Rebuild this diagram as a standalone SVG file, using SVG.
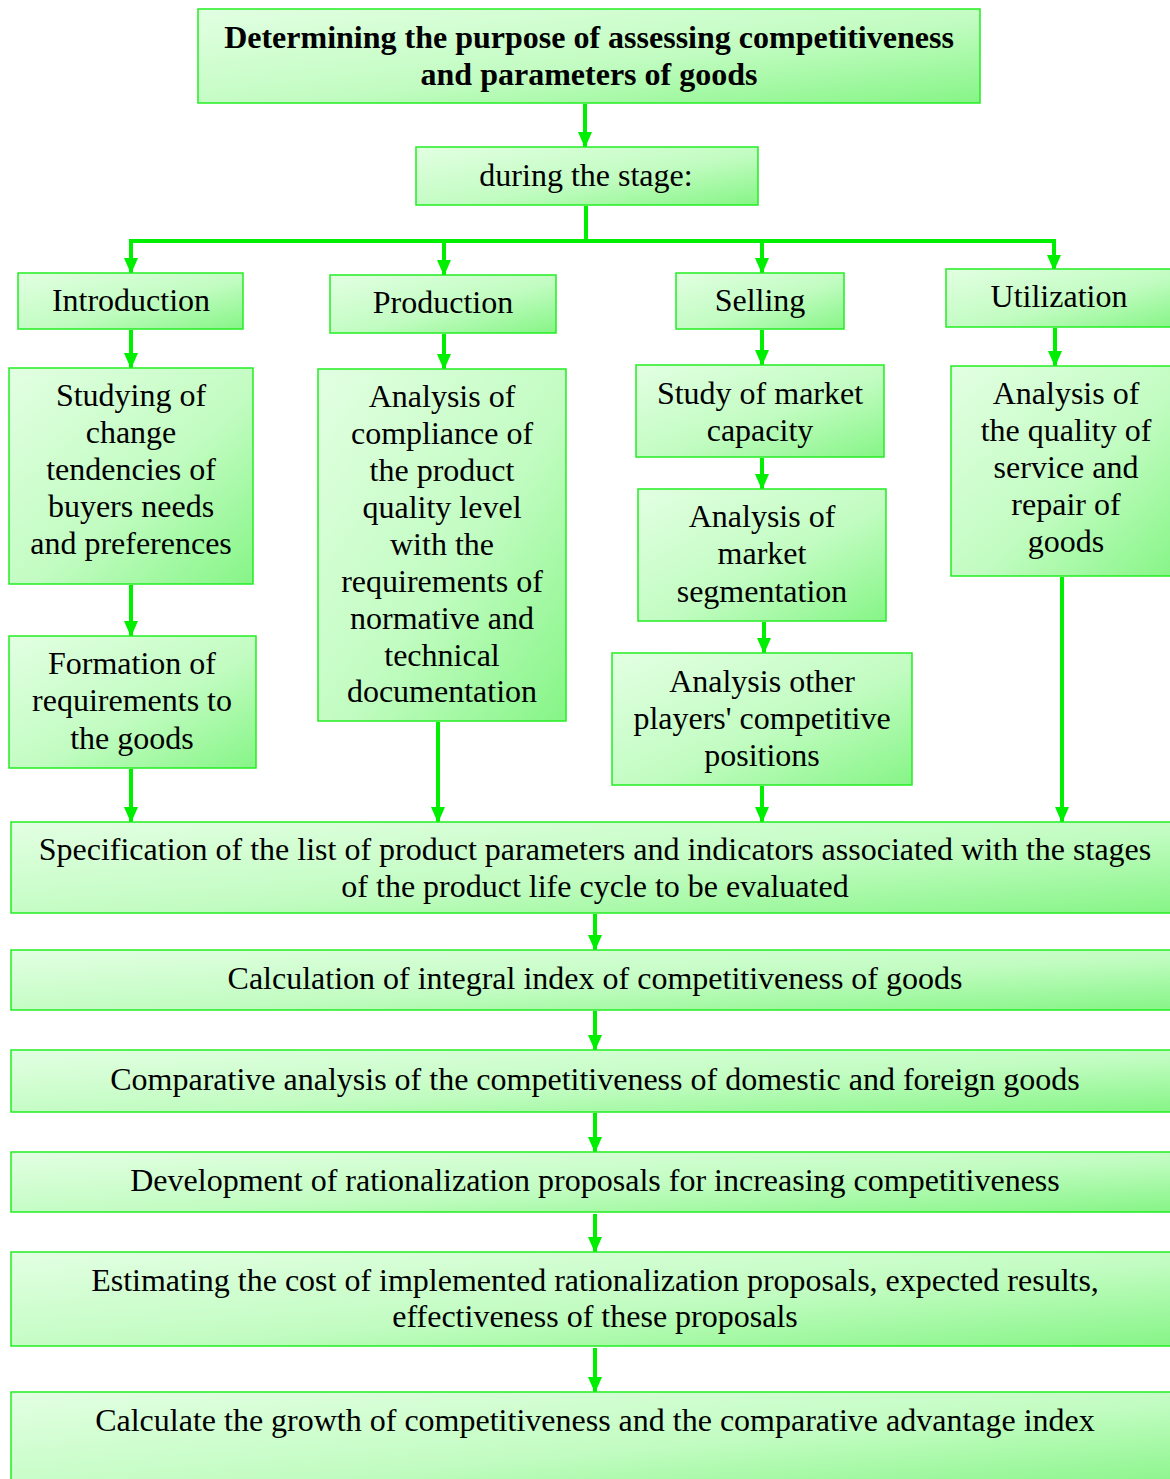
<svg xmlns="http://www.w3.org/2000/svg" width="1170" height="1479" viewBox="0 0 1170 1479">
<defs>
<linearGradient id="g" x1="0" y1="0" x2="1" y2="1">
<stop offset="0" stop-color="#e2ffe2"/>
<stop offset="0.55" stop-color="#c2fcc2"/>
<stop offset="1" stop-color="#86f586"/>
</linearGradient>
<marker id="a" markerUnits="userSpaceOnUse" markerWidth="16" markerHeight="16" viewBox="0 0 16 16" refX="15" refY="8" orient="auto">
<path d="M0,1 L16,8 L0,15 Z" fill="#00ee00"/>
</marker>
</defs>
<style>
rect{fill:url(#g);stroke:#22ee22;stroke-width:1.5}
text{font-family:"Liberation Serif","Times New Roman",serif;font-size:32px;fill:#000;text-anchor:middle}
.b{font-weight:bold}
#conn line,#conn polyline{stroke:#00ee00;stroke-width:4;fill:none}
</style>
<g id="conn">
<line x1="585" y1="104" x2="585" y2="147" marker-end="url(#a)"/>
<polyline points="586,206 586,241 131,241 131,273" marker-end="url(#a)"/>
<polyline points="586,241 1054,241 1054,270" marker-end="url(#a)"/>
<line x1="444" y1="241" x2="444" y2="275" marker-end="url(#a)"/>
<line x1="762" y1="241" x2="762" y2="273" marker-end="url(#a)"/>
<line x1="131" y1="330" x2="131" y2="368" marker-end="url(#a)"/>
<line x1="444" y1="334" x2="444" y2="369" marker-end="url(#a)"/>
<line x1="762" y1="330" x2="762" y2="365" marker-end="url(#a)"/>
<line x1="1055" y1="328" x2="1055" y2="366" marker-end="url(#a)"/>
<line x1="131" y1="585" x2="131" y2="636" marker-end="url(#a)"/>
<line x1="131" y1="769" x2="131" y2="822" marker-end="url(#a)"/>
<line x1="438" y1="722" x2="438" y2="822" marker-end="url(#a)"/>
<line x1="762" y1="458" x2="762" y2="489" marker-end="url(#a)"/>
<line x1="764" y1="622" x2="764" y2="653" marker-end="url(#a)"/>
<line x1="762" y1="786" x2="762" y2="822" marker-end="url(#a)"/>
<line x1="1062" y1="577" x2="1062" y2="822" marker-end="url(#a)"/>
<line x1="595" y1="914" x2="595" y2="950" marker-end="url(#a)"/>
<line x1="595" y1="1011" x2="595" y2="1050" marker-end="url(#a)"/>
<line x1="595" y1="1113" x2="595" y2="1152" marker-end="url(#a)"/>
<line x1="595" y1="1214" x2="595" y2="1252" marker-end="url(#a)"/>
<line x1="595" y1="1348" x2="595" y2="1392" marker-end="url(#a)"/>
</g>
<g id="n-top"><rect x="198" y="9" width="782" height="94"/><text class="b" x="589" y="48">Determining the purpose of assessing competitiveness</text><text class="b" x="589" y="85">and parameters of goods</text></g>
<g id="n-stage"><rect x="416" y="147" width="342" height="58"/><text x="586" y="186">during the stage:</text></g>
<g id="n-intro"><rect x="18" y="273" width="225" height="56"/><text x="131" y="311">Introduction</text></g>
<g id="n-prod"><rect x="330" y="275" width="226" height="58"/><text x="443" y="313">Production</text></g>
<g id="n-sell"><rect x="676" y="273" width="168" height="56"/><text x="760" y="311">Selling</text></g>
<g id="n-util"><rect x="946" y="269" width="230" height="58"/><text x="1059" y="307">Utilization</text></g>
<g id="n-study"><rect x="9" y="368" width="244" height="216"/><text x="131" y="406">Studying of</text><text x="131" y="443">change</text><text x="131" y="480">tendencies of</text><text x="131" y="517">buyers needs</text><text x="131" y="554">and preferences</text></g>
<g id="n-form"><rect x="9" y="636" width="247" height="132"/><text x="132" y="674">Formation of</text><text x="132" y="711">requirements to</text><text x="132" y="749">the goods</text></g>
<g id="n-compl"><rect x="318" y="369" width="248" height="352"/><text x="442" y="407">Analysis of</text><text x="442" y="444">compliance of</text><text x="442" y="481">the product</text><text x="442" y="518">quality level</text><text x="442" y="555">with the</text><text x="442" y="592">requirements of</text><text x="442" y="629">normative and</text><text x="442" y="666">technical</text><text x="442" y="702">documentation</text></g>
<g id="n-cap"><rect x="636" y="365" width="248" height="92"/><text x="760" y="404">Study of market</text><text x="760" y="441">capacity</text></g>
<g id="n-seg"><rect x="638" y="489" width="248" height="132"/><text x="762" y="527">Analysis of</text><text x="762" y="564">market</text><text x="762" y="602">segmentation</text></g>
<g id="n-other"><rect x="612" y="653" width="300" height="132"/><text x="762" y="692">Analysis other</text><text x="762" y="729">players' competitive</text><text x="762" y="766">positions</text></g>
<g id="n-qual"><rect x="951" y="366" width="225" height="210"/><text x="1066" y="404">Analysis of</text><text x="1066" y="441">the quality of</text><text x="1066" y="478">service and</text><text x="1066" y="515">repair of</text><text x="1066" y="552">goods</text></g>
<g id="n-spec"><rect x="11" y="822" width="1165" height="91"/><text x="595" y="860">Specification of the list of product parameters and indicators associated with the stages</text><text x="595" y="897">of the product life cycle to be evaluated</text></g>
<g id="n-calc"><rect x="11" y="950" width="1165" height="60"/><text x="595" y="989">Calculation of integral index of competitiveness of goods</text></g>
<g id="n-comp"><rect x="11" y="1050" width="1165" height="62"/><text x="595" y="1090">Comparative analysis of the competitiveness of domestic and foreign goods</text></g>
<g id="n-dev"><rect x="11" y="1152" width="1165" height="60"/><text x="595" y="1191">Development of rationalization proposals for increasing competitiveness</text></g>
<g id="n-est"><rect x="11" y="1252" width="1165" height="94"/><text x="595" y="1291">Estimating the cost of implemented rationalization proposals, expected results,</text><text x="595" y="1327">effectiveness of these proposals</text></g>
<g id="n-grow"><rect x="11" y="1392" width="1165" height="100"/><text x="595" y="1431">Calculate the growth of competitiveness and the comparative advantage index</text></g>
</svg>
